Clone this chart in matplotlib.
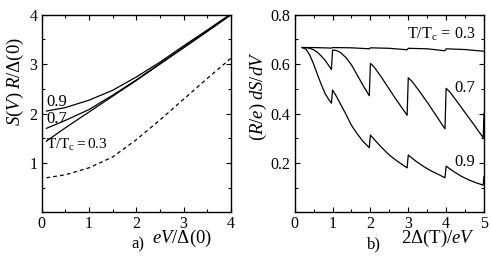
import matplotlib
matplotlib.use("Agg")
import matplotlib.pyplot as plt
from matplotlib.ticker import MultipleLocator, FixedLocator

# --- Panel a) data: S(V) R/Delta(0) vs eV/Delta(0) ---
A_X = [0.1, 0.5, 1.0, 1.5, 2.0, 2.5, 3.0, 3.5, 4.0]
A_T09 = [2.05, 2.12, 2.27, 2.47, 2.74, 3.04, 3.37, 3.69, 4.02]
A_T07 = [1.70, 1.86, 2.08, 2.37, 2.68, 3.01, 3.34, 3.67, 4.00]
A_T03 = [1.44, 1.71, 2.03, 2.35, 2.67, 3.00, 3.33, 3.66, 4.00]
A_DASH = [0.70, 0.76, 0.90, 1.12, 1.47, 1.87, 2.29, 2.71, 3.12]

# --- Panel b) data: (R/e) dS/dV vs 2Delta(T)/eV ---
B_X03 = [0.2, 0.5, 0.97, 1.0, 1.5, 1.97, 2.0, 2.5, 2.97, 3.0, 3.5, 3.97, 4.0,
         4.5, 5.0]
B_T03 = [0.667, 0.667, 0.665, 0.667, 0.666, 0.662, 0.666, 0.664, 0.658, 0.664,
         0.662, 0.654, 0.662, 0.659, 0.652]

B_X07 = [0.2, 0.3, 0.4, 0.5, 0.6, 0.7, 0.8, 0.9, 0.97,
         1.0, 1.1, 1.2, 1.35, 1.5, 1.65, 1.8, 1.97,
         2.0, 2.1, 2.3, 2.5, 2.7, 2.97,
         3.0, 3.1, 3.3, 3.5, 3.7, 3.97,
         4.0, 4.1, 4.3, 4.5, 4.7, 4.98, 5.0]
B_T07 = [0.667, 0.667, 0.664, 0.658, 0.648, 0.633, 0.616, 0.594, 0.578,
         0.657, 0.655, 0.648, 0.627, 0.597, 0.556, 0.515, 0.472,
         0.603, 0.588, 0.545, 0.498, 0.452, 0.393,
         0.545, 0.530, 0.489, 0.446, 0.400, 0.338,
         0.502, 0.487, 0.446, 0.404, 0.362, 0.302, 0.400]

B_X09 = [0.2, 0.3, 0.4, 0.5, 0.6, 0.7, 0.8, 0.9, 0.97,
         1.0, 1.1, 1.2, 1.35, 1.5, 1.65, 1.8, 1.97,
         2.0, 2.1, 2.3, 2.5, 2.7, 2.97,
         3.0, 3.2, 3.4, 3.6, 3.8, 3.97,
         4.0, 4.2, 4.4, 4.6, 4.8, 4.98, 5.0]
B_T09 = [0.667, 0.660, 0.636, 0.600, 0.558, 0.518, 0.482, 0.456, 0.442,
         0.495, 0.470, 0.441, 0.398, 0.352, 0.318, 0.288, 0.262,
         0.313, 0.295, 0.262, 0.232, 0.208, 0.180,
         0.232, 0.207, 0.186, 0.168, 0.153, 0.140,
         0.187, 0.165, 0.146, 0.131, 0.119, 0.110, 0.145]

# --- Style ---
plt.rcParams["font.family"] = ["Liberation Serif", "DejaVu Serif"]
plt.rcParams["mathtext.fontset"] = "custom"
plt.rcParams["mathtext.rm"] = "Liberation Serif"
plt.rcParams["mathtext.it"] = "Liberation Serif:italic"
plt.rcParams["mathtext.bf"] = "Liberation Serif:bold"
TICK_FS = 11.5
LABEL_FS = 13.5     # axis titles
PANEL_FS = 12       # a) / b)
CURVE_FS = 12       # curve annotations
LW = 0.9


def style_axes(ax):
    ax.tick_params(which="both", direction="in", top=True, right=True,
                   width=0.8, labelsize=TICK_FS, pad=3)
    ax.tick_params(which="major", length=3.5)
    ax.tick_params(which="minor", length=2.5)
    for sp in ax.spines.values():
        sp.set_linewidth(1.0)


fig = plt.figure(figsize=(4.91, 2.68), dpi=100)
ax_a = fig.add_axes([0.0849, 0.2078, 0.3855, 0.7373])
ax_b = fig.add_axes([0.6002, 0.2078, 0.3855, 0.7373])

# --- Panel a) ---
ax_a.plot(A_X, A_T09, color="black", lw=LW)
ax_a.plot(A_X, A_T07, color="black", lw=LW)
ax_a.plot(A_X, A_T03, color="black", lw=LW)
ax_a.plot(A_X, A_DASH, color="black", lw=LW, dashes=(3, 2.5))
ax_a.set_xlim(0, 4)
ax_a.set_ylim(0, 4)
ax_a.xaxis.set_major_locator(MultipleLocator(1))
ax_a.xaxis.set_minor_locator(MultipleLocator(0.5))
ax_a.yaxis.set_major_locator(FixedLocator([1, 2, 3, 4]))
ax_a.yaxis.set_minor_locator(MultipleLocator(0.5))
style_axes(ax_a)
ax_a.text(0.09, 2.23, "0.9", fontsize=CURVE_FS, va="center")
ax_a.text(0.09, 1.88, "0.7", fontsize=CURVE_FS, va="center")
ax_a.text(0.09, 1.36, r"$\mathrm{T/T_c{=}0.3}$", fontsize=11,
          va="center")
ax_a.text(-0.141, 0.66, r"$S(V)\;R/\Delta(0)$", transform=ax_a.transAxes,
          fontsize=LABEL_FS, rotation=90, ha="center", va="center")
ax_a.text(0.743, -0.08, r"$eV/\Delta(0)$", transform=ax_a.transAxes,
          fontsize=LABEL_FS, ha="center", va="top")
ax_a.text(0.51, -0.16, "a)", transform=ax_a.transAxes,
          fontsize=PANEL_FS, ha="center", va="center")

# --- Panel b) ---
ax_b.plot(B_X03, B_T03, color="black", lw=LW)
ax_b.plot(B_X07, B_T07, color="black", lw=LW)
ax_b.plot(B_X09, B_T09, color="black", lw=LW)
ax_b.set_xlim(0, 5)
ax_b.set_ylim(0, 0.8)
ax_b.xaxis.set_major_locator(MultipleLocator(1))
ax_b.xaxis.set_minor_locator(MultipleLocator(0.5))
ax_b.yaxis.set_major_locator(FixedLocator([0.2, 0.4, 0.6, 0.8]))
ax_b.yaxis.set_minor_locator(MultipleLocator(0.1))
style_axes(ax_b)
ax_b.text(4.76, 0.722, r"$\mathrm{T/T_c\,{=}\,0.3}$", fontsize=11.5,
          ha="right", va="center")
ax_b.text(4.76, 0.503, "0.7", fontsize=CURVE_FS, ha="right", va="center")
ax_b.text(4.76, 0.204, "0.9", fontsize=CURVE_FS, ha="right", va="center")
ax_b.text(-0.189, 0.59, r"$(R/e)\;dS/dV$", transform=ax_b.transAxes,
          fontsize=LABEL_FS, rotation=90, ha="center", va="center")
ax_b.text(0.757, -0.08, r"$2\Delta(\mathrm{T})/eV$", transform=ax_b.transAxes,
          fontsize=LABEL_FS, ha="center", va="top")
ax_b.text(0.42, -0.16, "b)", transform=ax_b.transAxes,
          fontsize=PANEL_FS, ha="center", va="center")

fig.savefig("out.png", dpi=100)
